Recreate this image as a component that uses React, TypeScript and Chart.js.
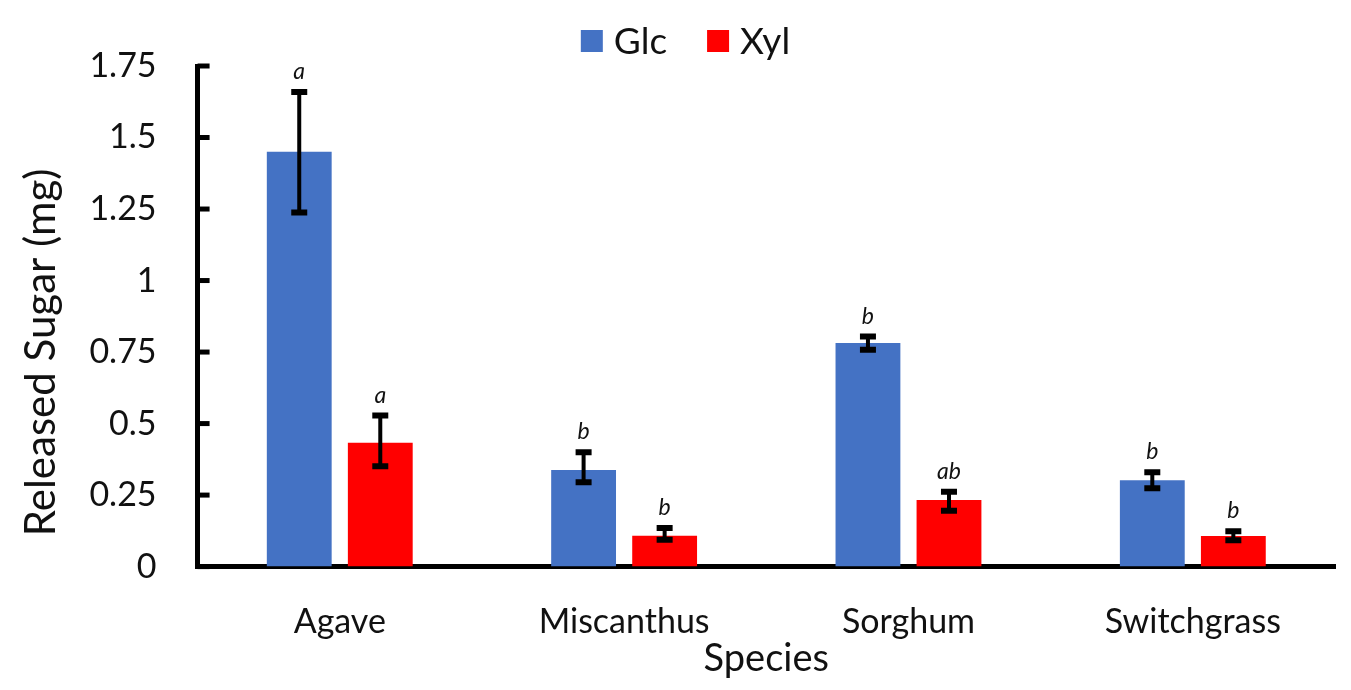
import { useEffect, useRef } from 'react'
import { Chart, registerables } from 'chart.js'
import type { Plugin } from 'chart.js'

Chart.register(...registerables)

const species = ['Agave', 'Miscanthus', 'Sorghum', 'Switchgrass']
const glc = [1.45, 0.338, 0.782, 0.302]
const glcLow = [1.238, 0.295, 0.758, 0.274]
const glcHigh = [1.659, 0.4, 0.804, 0.33]
const glcLetters = ['a', 'b', 'b', 'b']
const xyl = [0.433, 0.108, 0.233, 0.107]
const xylLow = [0.351, 0.094, 0.195, 0.092]
const xylHigh = [0.528, 0.135, 0.262, 0.124]
const xylLetters = ['a', 'b', 'ab', 'b']
const yTicks = [0, 0.25, 0.5, 0.75, 1, 1.25, 1.5, 1.75]
const yTitle = 'Released Sugar (mg)'

const FONT = 'Lato, "Open Sans", sans-serif'

const errors = [
  { low: glcLow, high: glcHigh, letters: glcLetters },
  { low: xylLow, high: xylHigh, letters: xylLetters }
]

// tick marks on the y axis point into the plot, so draw them here
const innerTicks: Plugin<'bar'> = {
  id: 'innerTicks',
  afterDraw(chart) {
    const { ctx, chartArea } = chart
    const y = chart.scales.y
    ctx.save()
    ctx.strokeStyle = '#000'
    ctx.lineWidth = 5
    y.ticks.forEach((t) => {
      const py = y.getPixelForValue(t.value)
      ctx.beginPath()
      ctx.moveTo(chartArea.left, py)
      ctx.lineTo(chartArea.left + 12, py)
      ctx.stroke()
    })
    ctx.restore()
  }
}

// error bars plus the significance letters above them
const errorBars: Plugin<'bar'> = {
  id: 'errorBars',
  afterDatasetsDraw(chart) {
    const { ctx } = chart
    const y = chart.scales.y
    ctx.save()
    ctx.strokeStyle = '#000'
    ctx.fillStyle = '#111'
    errors.forEach((err, i) => {
      const meta = chart.getDatasetMeta(i)
      meta.data.forEach((bar, j) => {
        const x = bar.x
        const top = y.getPixelForValue(err.high[j])
        const bottom = y.getPixelForValue(err.low[j])
        ctx.lineWidth = 4
        ctx.beginPath()
        ctx.moveTo(x, top)
        ctx.lineTo(x, bottom)
        ctx.stroke()
        ctx.lineWidth = 6
        ctx.beginPath()
        ctx.moveTo(x - 8, top)
        ctx.lineTo(x + 8, top)
        ctx.moveTo(x - 8, bottom)
        ctx.lineTo(x + 8, bottom)
        ctx.stroke()
        ctx.font = `italic 23px ${FONT}`
        ctx.textAlign = 'center'
        ctx.textBaseline = 'alphabetic'
        ctx.fillText(err.letters[j], x, top - 13)
      })
    })
    ctx.restore()
  }
}

// legend drawn by hand: Chart.js ties item spacing to its vertical padding
const topLegend: Plugin<'bar'> = {
  id: 'topLegend',
  afterDraw(chart) {
    const { ctx } = chart
    const box = 22
    const boxGap = 11
    const itemGap = 40
    ctx.save()
    ctx.font = `37px ${FONT}`
    ctx.textBaseline = 'middle'
    ctx.textAlign = 'left'
    const sets = chart.data.datasets
    const widths = sets.map((d) => box + boxGap + ctx.measureText(String(d.label)).width)
    const total = widths.reduce((a, b) => a + b, 0) + itemGap * (sets.length - 1)
    let x = chart.width / 2 + 10 - total / 2
    const cy = 41
    sets.forEach((d, i) => {
      ctx.fillStyle = String(d.backgroundColor)
      ctx.fillRect(x, cy - box / 2, box, box)
      ctx.fillStyle = '#111'
      ctx.fillText(String(d.label), x + box + boxGap, cy + 1)
      x += widths[i] + itemGap
    })
    ctx.restore()
  }
}

// the y title sits a little below the middle of the axis in the original,
// so the axis title only reserves the room and this draws the text
const yTitleText: Plugin<'bar'> = {
  id: 'yTitleText',
  afterDraw(chart) {
    const { ctx, chartArea } = chart
    const y = chart.scales.y
    ctx.save()
    ctx.font = `42px ${FONT}`
    ctx.fillStyle = '#111'
    ctx.textAlign = 'center'
    ctx.textBaseline = 'middle'
    ctx.translate(y.left + 25, (chartArea.top + chartArea.bottom) / 2 + 36)
    ctx.rotate(-Math.PI / 2)
    ctx.fillText(yTitle, 0, 0)
    ctx.restore()
  }
}

function App() {
  const canvasRef = useRef<HTMLCanvasElement>(null)

  useEffect(() => {
    const canvas = canvasRef.current
    if (!canvas) return
    document.body.style.margin = '0'

    const chart = new Chart(canvas, {
      type: 'bar',
      data: {
        labels: species,
        datasets: [
          { label: 'Glc', data: glc, backgroundColor: '#4472C4', categoryPercentage: 0.57, barPercentage: 0.8 },
          { label: 'Xyl', data: xyl, backgroundColor: '#FF0000', categoryPercentage: 0.57, barPercentage: 0.8 }
        ]
      },
      options: {
        responsive: false,
        animation: false,
        layout: { padding: { left: 16, right: 16, top: 66, bottom: 8 } },
        plugins: {
          legend: { display: false },
          tooltip: { enabled: false }
        },
        scales: {
          x: {
            grid: { display: false },
            border: { color: '#000', width: 5 },
            ticks: { color: '#111', font: { family: FONT, size: 34 }, padding: 27 },
            title: {
              display: true,
              text: 'Species',
              color: '#111',
              font: { family: FONT, size: 38 },
              padding: { top: -33, bottom: 0 }
            }
          },
          y: {
            min: 0,
            max: 1.75,
            afterBuildTicks: (axis) => {
              axis.ticks = yTicks.map((v) => ({ value: v }))
            },
            grid: { display: false },
            border: { color: '#000', width: 5 },
            ticks: {
              color: '#111',
              font: { family: FONT, size: 34 },
              padding: 33,
              callback: (v) => String(v)
            },
            title: {
              display: true,
              text: yTitle,
              color: 'rgba(0,0,0,0)',
              font: { family: FONT, size: 42 },
              padding: { top: 0, bottom: -10 }
            }
          }
        }
      },
      plugins: [errorBars, innerTicks, topLegend, yTitleText]
    })

    return () => chart.destroy()
  }, [])

  return <canvas ref={canvasRef} width={1351} height={690} style={{ display: 'block' }} />
}

export default App
